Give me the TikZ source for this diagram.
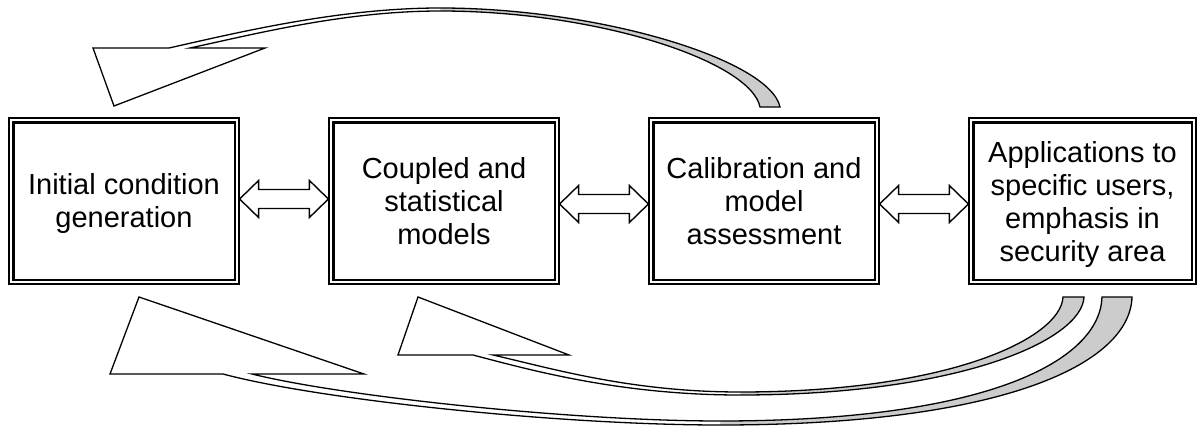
\documentclass[tikz,border=0pt]{standalone}
\usepackage{fontspec}
\setmainfont{Liberation Sans}
\usetikzlibrary{calc}
\definecolor{backgray}{RGB}{204,204,204}
\newcommand\dblarrow[3]{%
\draw[darr] let \p1=(#1.east), \p2=(#2.west) in
 (\x1,\y1#3) -- (\x1+19pt,\y1#3+18.5pt) -- (\x1+19pt,\y1#3+9.5pt) -- (\x2-19pt,\y1#3+9.5pt) -- (\x2-19pt,\y1#3+18.5pt) -- (\x2,\y1#3) -- (\x2-19pt,\y1#3-18.5pt) -- (\x2-19pt,\y1#3-9.5pt) -- (\x1+19pt,\y1#3-9.5pt) -- (\x1+19pt,\y1#3-18.5pt) -- cycle;}
\begin{document}
\begin{tikzpicture}[x=1pt,y=-1pt,
  box/.style={draw, line width=1.2pt, minimum width=230pt, minimum height=166pt, inner sep=0pt},
  boxtext/.style={inner sep=0pt, align=center, font=\fontsize{29}{33}\selectfont},
  innerline/.style={line width=2.2pt},
  darr/.style={draw, fill=white, line width=1.4pt, line join=miter},
  curvearr/.style={draw, line width=1.3pt, line join=miter},
  backfill/.style={fill=backgray}]
\useasboundingbox (0,0) rectangle (1197,428);

\node[box] (b1) at (124,201) {};
\node[box] (b2) at (444,201) {};
\node[box] (b3) at (764,201) {};
\node[box, minimum width=227pt] (b4) at (1082.5,201) {};
\foreach \n in {b1,b2,b3,b4}
  \draw[innerline] ([shift={(5,5)}]\n.north west) rectangle ([shift={(-5,-5)}]\n.south east);

\node[boxtext, yshift=-3pt] (t1) at (b1.center) {Initial condition\\generation};
\node[boxtext] (t2) at (b2.center) {Coupled and\\statistical\\models};
\node[boxtext] (t3) at (b3.center) {Calibration and\\model\\assessment};
\node[boxtext, yshift=-4pt] (t4) at (b4.center) {Applications to\\specific users,\\emphasis in\\security area};

\dblarrow{b1}{b2}{+2pt}
\dblarrow{b2}{b3}{-3pt}
\dblarrow{b3}{b4}{-3pt}

% top curved arrow: calibration -> initial condition
\fill[backfill] (760,107) .. controls (751,62) and (600,11) .. (440,11) -- (440,8) .. controls (600,8) and (770,60) .. (780,107) -- cycle;
\draw[curvearr] (440,11) .. controls (600,11) and (751,62) .. (760,107) -- (780,107) .. controls (770,60) and (600,8) .. (440,8);
\draw[curvearr, fill=white] (440,8) .. controls (340,8) and (240,32) .. (169,48) -- (93,48) -- (114,106) -- (265,48) -- (190,48) .. controls (255,34) and (345,11) .. (440,11);

% bottom arrow A: applications -> coupled models
\fill[backfill] (1063,297) .. controls (1061,338) and (950,392) .. (740,392) -- (740,395) .. controls (960,395) and (1082,340) .. (1084,297) -- cycle;
\draw[curvearr] (740,392) .. controls (950,392) and (1061,338) .. (1063,297) -- (1084,297) .. controls (1082,340) and (960,395) .. (740,395);
\draw[curvearr, fill=white] (740,395) .. controls (620,395) and (530,370) .. (473,355) -- (398,355) -- (418,297) -- (569,355) -- (493,355) .. controls (550,368) and (630,392) .. (740,392);

% bottom arrow B: applications -> initial condition
\fill[backfill] (1102,297) .. controls (1100,360) and (990,421) .. (720,421) -- (720,425) .. controls (1000,425) and (1130,365) .. (1132,297) -- cycle;
\draw[curvearr] (720,421) .. controls (990,421) and (1100,360) .. (1102,297) -- (1132,297) .. controls (1130,365) and (1000,425) .. (720,425);
\draw[curvearr, fill=white] (720,425) .. controls (560,425) and (320,400) .. (223,374) -- (110,374) -- (139,297) -- (364,374) -- (252,374) .. controls (340,396) and (570,421) .. (720,421);
\end{tikzpicture}
\end{document}
